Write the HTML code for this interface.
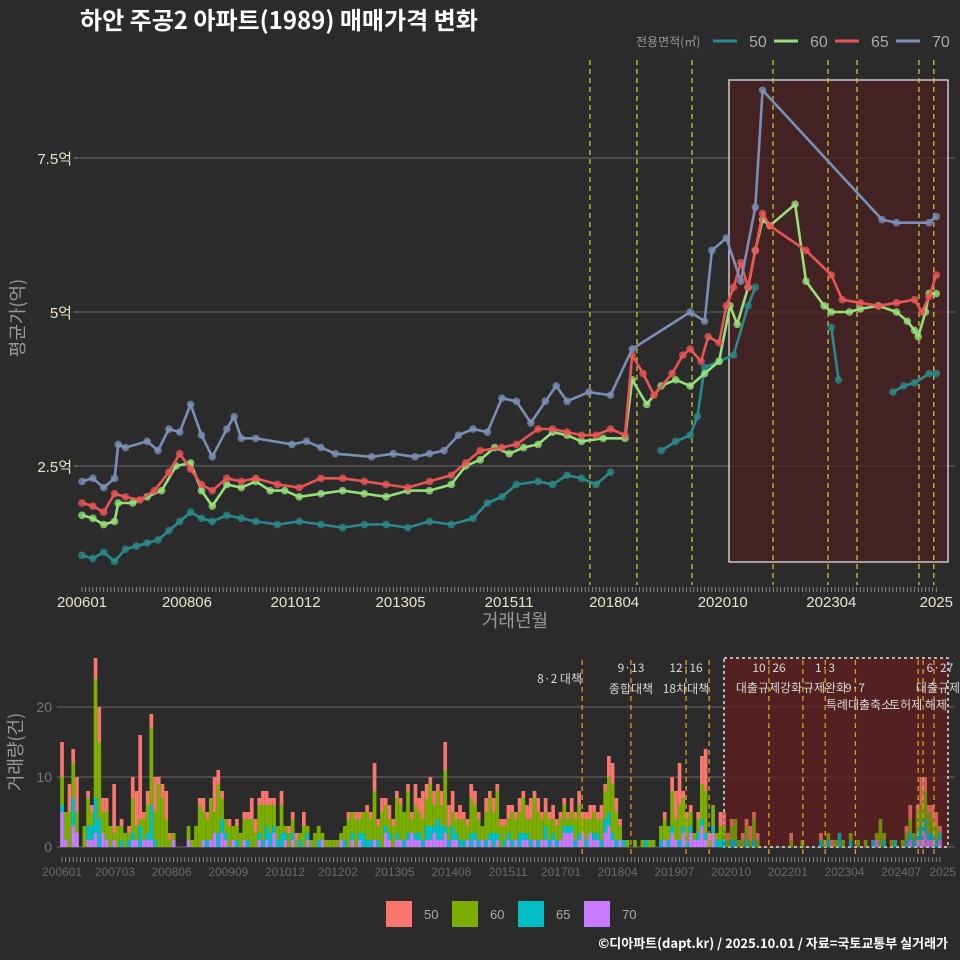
<!DOCTYPE html>
<html><head><meta charset="utf-8">
<style>
html,body{margin:0;padding:0;background:#2b2b2b;}
svg{display:block;font-family:"Liberation Sans","Noto Sans CJK KR",sans-serif;}
</style></head>
<body>
<svg id="chart" width="960" height="960" viewBox="0 0 960 960">
<rect width="960" height="960" fill="#2b2b2b"/>
<text x="80" y="29" fill="#ffffff" font-size="24" font-weight="bold" font-family="'Noto Sans CJK KR',sans-serif">하안 주공2 아파트(1989) 매매가격 변화</text>
<g id="legendTop">
<text x="636" y="46" fill="#999" font-size="12" font-family="'Noto Sans CJK KR',sans-serif">전용면적(㎡)</text>
</g>
<g id="topPanel"></g>
<g id="bottomPanel"></g>
<text x="948" y="948" text-anchor="end" fill="#ffffff" font-size="13" font-weight="bold" font-family="'Noto Sans CJK KR',sans-serif">©디아파트(dapt.kr) / 2025.10.01 / 자료=국토교통부 실거래가</text>
</svg>
<script>
const sizeLabels=["50","60","65","70"];
const lineColors=["#2a8a8a","#96e07a","#e85555","#7b8fb5"];
const barColors=["#f8766d","#7cae00","#00bfc4","#c77cff"];
const topTicks=[2.5,5,7.5];
const topTickLabels=["2.5억","5억","7.5억"];
const topXLabels=["200601","200806","201012","201305","201511","201804","202010","202304","2025"];
const topXLabelMonths=[0,29,59,88,118,147,177,207,236];
const botXLabels=["200601","200703","200806","200909","201012","201202","201305","201408","201511","201701","201804","201907","202010","202201","202304","202407","2025"];
const botXLabelMonths=[0,14,29,44,59,73,88,103,118,132,147,162,177,192,207,222,233];
const botTicks=[0,10,20];
const policyMonthsTop=[140.3,153.3,168.5,190.9,206.1,214.1,231.2,235.3];
const policyMonthsBot=[137.6,150.5,165.1,171.2,187,196,201.9,209.9,226.5,227.8,230.7];
const m50=[0,3,6,9,12,15,18,21,24,27,30,33,36,40,44,48,54,60,66,72,78,84,90,96,102,108,112,116,120,126,130,134,138,142,146,null,160,164,168,170,172,176,180,184,186,null,207,209,null,224,227,230,234,236];
const v50=[1.05,1.0,1.1,0.95,1.15,1.2,1.25,1.3,1.45,1.6,1.75,1.65,1.6,1.7,1.65,1.6,1.55,1.6,1.55,1.5,1.55,1.55,1.5,1.6,1.55,1.65,1.9,2.0,2.2,2.25,2.2,2.35,2.3,2.2,2.4,null,2.75,2.9,3.0,3.3,4.1,4.2,4.3,5.1,5.4,null,4.75,3.9,null,3.7,3.8,3.85,4.0,4.0];
const m60=[0,3,6,9,10,14,18,22,26,30,33,36,40,44,48,52,56,60,66,72,78,84,90,96,102,106,110,114,118,122,126,130,134,138,144,150,152,156,160,164,168,172,176,179,181,184,186,188,190,197,200,205,207,212,215,220,225,228,230,231,233,234,236];
const v60=[1.7,1.65,1.55,1.6,1.9,1.9,2.0,2.1,2.5,2.55,2.1,1.85,2.2,2.15,2.25,2.1,2.1,2.0,2.05,2.1,2.05,2.0,2.1,2.1,2.2,2.5,2.6,2.8,2.7,2.8,2.85,3.05,3.0,2.9,2.95,2.95,3.9,3.5,3.8,3.9,3.8,4.0,4.2,5.1,4.8,5.4,6.0,6.5,6.4,6.75,5.5,5.1,5.0,5.0,5.05,5.1,5.0,4.85,4.7,4.6,5.0,5.3,5.3];
const m65=[0,3,6,9,12,16,20,24,27,30,33,36,40,44,48,54,60,66,72,78,84,90,96,102,106,110,116,120,126,130,134,138,142,146,150,152,155,158,163,166,168,171,173,176,178,180,182,184,186,188,190,200,207,210,215,220,225,230,232,234,236];
const v65=[1.9,1.85,1.75,2.05,2.0,1.95,2.1,2.4,2.7,2.45,2.2,2.1,2.3,2.25,2.3,2.2,2.15,2.3,2.3,2.25,2.2,2.15,2.25,2.35,2.55,2.75,2.8,2.85,3.1,3.1,3.05,3.0,3.0,3.1,3.0,4.3,4.0,3.65,4.0,4.3,4.4,4.2,4.6,4.5,5.1,5.4,5.8,5.4,6.0,6.6,6.4,6.0,5.6,5.2,5.15,5.1,5.15,5.2,5.0,5.25,5.6];
const m70=[0,3,6,9,10,12,18,21,24,27,30,33,36,40,42,44,48,58,62,66,70,80,86,92,96,100,104,108,112,116,120,124,128,131,134,140,146,152,168,172,174,178,182,186,188,221,225,234,236];
const v70=[2.25,2.3,2.15,2.3,2.85,2.8,2.9,2.75,3.1,3.05,3.5,3.0,2.65,3.1,3.3,2.95,2.95,2.85,2.9,2.8,2.7,2.65,2.7,2.65,2.7,2.75,3.0,3.1,3.05,3.6,3.55,3.2,3.55,3.8,3.55,3.7,3.65,4.4,5.0,4.85,6.0,6.2,5.5,6.7,8.6,6.5,6.45,6.45,6.55];
const b70=[5,1,0,3,2,0,0,1,1,2,0,2, 1,0,1,0,0,0,0,1,1,0,1,1, 1,0,0,0,0,0,1,0,0,0,1,0, 0,0,1,0,1,2,0,2,1,0,1,0, 0,1,0,0,0,1,0,1,0,2,0,0, 1,0,1,0,0,0,1,0,0,0,1,0, 0,0,0,1,0,0,1,0,1,0,0,0, 1,0,0,2,1,0,1,1,0,1,2,1, 1,0,1,1,2,1,1,2,0,1,1,0, 0,1,0,1,0,1,0,1,0,1,0,0, 1,0,1,0,1,1,0,1,0,1,1,0, 1,0,1,2,2,2,0,1,2,0,2,1, 1,0,2,3,1,0,1,0,0,0,0,0, 0,0,0,0,0,0,1,0,2,1,0,2, 0,2,1,1,3,1,0,2,0,0,0,0, 0,0,0,0,0,0,0,0,0,0,0,0, 0,0,0,0,0,0,0,0,0,0,0,0, 0,0,0,0,0,0,0,0,0,0,0,0, 0,0,0,1,0,0,0,0,0,0,0,0, 1,0,1,1,2,1,1,0,1];
const b65=[1,0,0,4,0,0,0,2,2,5,4,0, 0,0,0,0,1,0,1,1,0,3,0,1, 5,1,0,0,0,0,0,0,0,0,0,0, 0,0,0,1,0,0,2,2,1,0,0,1, 0,0,1,0,0,1,1,2,2,1,1,2, 1,0,1,0,1,0,1,0,0,1,0,0, 0,0,0,0,1,0,1,0,1,2,1,1, 0,1,0,1,1,0,1,0,1,1,0,1, 1,1,2,2,1,3,2,1,1,2,1,1, 1,0,2,1,1,0,1,1,2,1,0,1, 1,1,0,2,1,1,1,0,1,0,2,1, 1,1,0,1,1,1,1,1,0,1,0,1, 1,1,2,2,1,1,0,1,0,0,0,0, 0,1,0,0,0,1,0,1,1,0,1,1, 1,1,0,1,1,1,0,1,1,1,1,0, 1,1,0,0,1,0,1,0,0,0,0,0, 0,0,0,0,0,0,0,0,0,0,0,0, 1,0,1,0,0,2,0,0,1,0,0,0, 0,0,1,0,0,1,0,0,1,0,0,1, 1,1,1,2,2,1,1,1,1];
const b60=[4,4,5,5,3,0,3,4,2,17,11,3, 4,3,1,3,2,2,1,5,2,1,3,4, 11,4,9,7,4,1,1,0,0,0,2,1, 3,6,4,3,6,3,7,3,2,3,2,2, 2,3,3,4,2,4,5,3,4,3,2,4, 1,2,2,1,1,3,1,1,2,2,1,1, 1,1,1,1,2,4,3,4,2,3,4,3, 7,2,5,3,2,3,5,5,4,6,2,4, 3,3,4,6,3,4,3,8,2,2,2,3, 3,2,5,4,3,2,4,5,3,6,3,2, 2,4,3,3,5,2,3,6,4,3,2,3, 2,2,3,3,1,2,3,4,2,3,2,3, 2,3,4,5,7,4,2,0,1,0,1,0, 1,0,1,1,0,2,3,2,5,3,5,4, 3,2,1,2,5,6,1,3,1,2,2,1, 2,3,1,1,2,1,3,1,0,0,0,0, 0,0,0,0,1,0,0,1,0,0,0,0, 0,1,1,0,1,0,1,0,1,0,1,0, 1,0,0,1,4,1,0,1,0,0,1,1, 2,1,3,3,4,3,2,2,0];
const b50=[5,0,4,2,5,0,0,1,1,3,5,2, 2,0,7,0,1,0,1,3,5,12,1,2, 2,5,1,2,4,1,0,0,0,0,0,0, 0,1,2,1,0,5,2,1,0,1,0,1, 0,1,1,3,2,1,2,2,1,1,0,2, 0,1,1,1,0,2,0,0,0,0,0,0, 0,0,0,0,0,1,0,1,1,0,1,1, 4,1,2,1,2,1,1,1,0,1,1,3, 2,4,2,1,2,1,2,4,3,3,1,2, 1,1,2,2,1,0,2,1,2,1,1,1, 2,1,1,2,1,2,3,1,2,1,2,1, 2,1,1,1,1,2,1,2,1,1,2,1, 1,2,1,3,3,2,1,0,0,0,0,0, 0,0,0,0,0,0,1,0,2,4,6,1, 1,1,0,1,4,6,1,0,0,2,2,1, 1,0,0,1,1,2,1,1,0,0,0,0, 0,0,0,0,1,0,0,0,0,0,0,0, 1,0,0,1,0,0,0,0,0,0,0,0, 0,0,0,0,0,0,0,0,0,0,0,1, 2,0,1,4,2,1,2,2,1];
const annTexts=[["8·2 대책",582,683,"end"],["9·13",631,672,"middle"],["종합대책",631,693,"middle"],["12·16",686,672,"middle"],["18차대책",686,693,"middle"],["10·26",769,672,"middle"],["대출규제강화",769,692,"middle"],["1·3",825,672,"middle"],["규제완화",825,692,"middle"],["9·7",855,692,"middle"],["특례대출축소",859,709,"middle"],["토허제 해제",918,709,"middle"],["6·27",940,672,"middle"],["대출규제",938,692,"middle"]];

const NS="http://www.w3.org/2000/svg";
function mk(tag,attrs,parent){const e=document.createElementNS(NS,tag);for(const k in attrs)e.setAttribute(k,attrs[k]);parent.appendChild(e);return e;}
const topG=document.getElementById('topPanel'), botG=document.getElementById('bottomPanel'), legG=document.getElementById('legendTop');
const tx=m=>82+m*3.62, ty=v=>466-(v-2.5)*61.6;
const bx=m=>62+m*3.72, by=v=>847-v*7;

sizeLabels.forEach((s,i)=>{const x0=713+i*61;
 const l=mk('line',{x1:x0,y1:41,x2:x0+24,y2:41,stroke:lineColors[i],'stroke-width':3},legG);
 
 
 const t=mk('text',{x:x0+36,y:47,fill:'#aaa','font-size':16},legG);t.textContent=s;
 
 
});

topTicks.forEach((v,i)=>{const g=mk('line',{x1:78,x2:955,y1:ty(v),y2:ty(v),stroke:'#6a6a6a','stroke-width':1},topG);
 
 
 mk('line',{x1:74,x2:78,y1:ty(v),y2:ty(v),stroke:'#888'},topG);
 const t=mk('text',{x:72,y:ty(v)+6,'text-anchor':'end',fill:'#e8e4c8','font-size':15},topG);t.textContent=topTickLabels[i];
 
 
});
const sr=mk('rect',{x:729,y:80,width:219,height:482,fill:'#4a2020',opacity:0.75,stroke:'#fff','stroke-width':1.5},topG);


policyMonthsTop.forEach(m=>{const l=mk('line',{x1:tx(m),x2:tx(m),y1:60,y2:585,stroke:'#c8c832','stroke-width':1.3,'stroke-dasharray':'5,4'},topG);
 
 
});
[[m50,v50],[m60,v60],[m65,v65],[m70,v70]].forEach(([ms,vs],i)=>{
 let d='',pen=false;
 const g=mk('g',{},topG);
 
 
 ms.forEach((m,j)=>{if(m===null||vs[j]===null){pen=false;return;}
  d+=(pen?'L':'M')+tx(m).toFixed(1)+','+ty(vs[j]).toFixed(1);pen=true;});
 const p=mk('path',{d:d,fill:'none',stroke:lineColors[i],'stroke-width':2.6,'stroke-linejoin':'round'},g);
 
 
 ms.forEach((m,j)=>{if(m===null||vs[j]===null)return;
  const c=mk('circle',{cx:tx(m),cy:ty(vs[j]),r:3.8,fill:lineColors[i],opacity:0.8},g);
  
  
 });
});
for(let m=0;m<=236;m++){mk('line',{x1:tx(m),x2:tx(m),y1:587,y2:592,stroke:'#999','stroke-width':0.8},topG);}
topXLabels.forEach((s,i)=>{const t=mk('text',{x:tx(topXLabelMonths[i]),y:607,'text-anchor':'middle',fill:'#e8e4c8','font-size':15},topG);t.textContent=s;
 
 
});
let t1=mk('text',{x:515,y:627,'text-anchor':'middle',fill:'#9a9a9a','font-size':18,'font-family':"'Noto Sans CJK KR',sans-serif"},topG);t1.textContent='거래년월';


let t2=mk('text',{x:0,y:0,transform:'translate(24,318) rotate(-90)','text-anchor':'middle',fill:'#9a9a9a','font-size':18,'font-family':"'Noto Sans CJK KR',sans-serif"},topG);t2.textContent='평균가(억)';



botTicks.forEach(v=>{const g=mk('line',{x1:57,x2:955,y1:by(v),y2:by(v),stroke:'#6a6a6a'},botG);
 
 
 const t=mk('text',{x:52,y:by(v)+5,'text-anchor':'end',fill:'#777','font-size':14},botG);t.textContent=v;
 
 
});
const br=mk('rect',{x:724,y:658,width:224,height:189,fill:'#5a2020',opacity:0.85,stroke:'#ccc','stroke-width':2,'stroke-dasharray':'3,3'},botG);


const series=[b70,b65,b60,b50], scol=[barColors[3],barColors[2],barColors[1],barColors[0]], sname=['70','65','60','50'];
for(let m=0;m<b70.length;m++){let acc=0;
 for(let k=0;k<4;k++){const v=series[k][m];if(!v)continue;
  const r=mk('rect',{x:bx(m)-1.8,y:by(acc+v),width:3.7,height:v*7,fill:scol[k],opacity:m>=178?0.75:1},botG);
  
  
  acc+=v;}
}
policyMonthsBot.forEach(m=>{const l=mk('line',{x1:62+m*3.78,x2:62+m*3.78,y1:660,y2:855,stroke:'#e0a020','stroke-width':1.3,'stroke-dasharray':'5,4'},botG);
 
 
});
annTexts.forEach(a=>{const t=mk('text',{x:a[1],y:a[2],'text-anchor':a[3],fill:'#d8d8d8','font-size':12,'font-family':"'Noto Sans CJK KR',sans-serif"},botG);t.textContent=a[0];
 
 
});
for(let m=0;m<=236;m++){mk('line',{x1:bx(m),x2:bx(m),y1:857,y2:862,stroke:'#999','stroke-width':0.8},botG);}
botXLabels.forEach((s,i)=>{const t=mk('text',{x:62+botXLabelMonths[i]*3.78,y:876,'text-anchor':'middle',fill:'#6a6a6a','font-size':12},botG);t.textContent=s;
 
 
});
let t3=mk('text',{x:0,y:0,transform:'translate(22,752) rotate(-90)','text-anchor':'middle',fill:'#9a9a9a','font-size':18,'font-family':"'Noto Sans CJK KR',sans-serif"},botG);t3.textContent='거래량(건)';


sizeLabels.forEach((s,i)=>{const x0=386+i*66;
 const r=mk('rect',{x:x0,y:901,width:26,height:26,fill:barColors[i]},botG);
 
 
 const t=mk('text',{x:x0+38,y:919,fill:'#aaa','font-size':13},botG);t.textContent=s;
 
 
});
</script>
</body></html>
